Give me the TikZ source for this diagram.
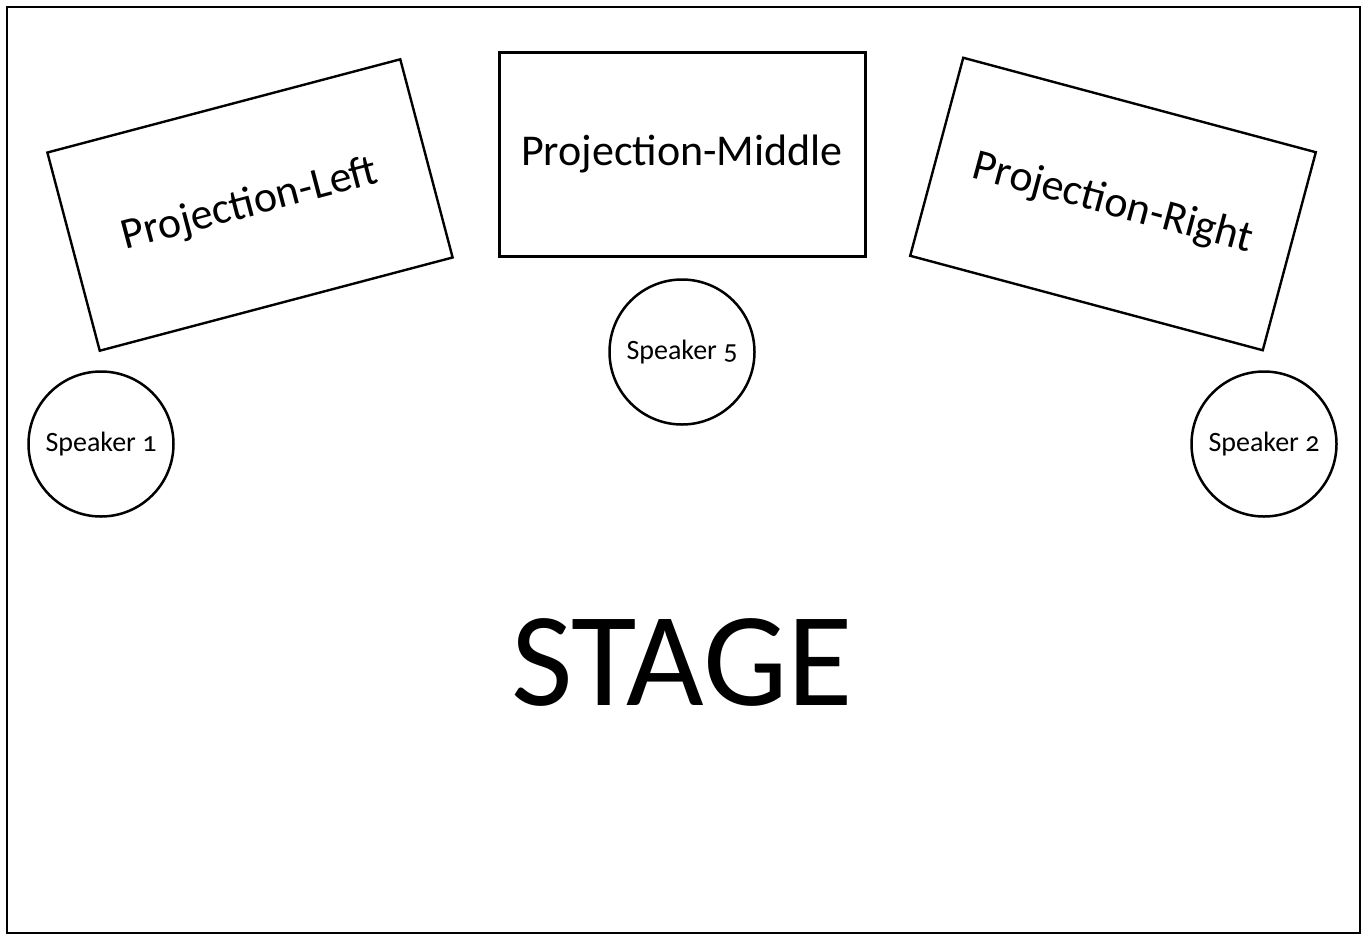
\documentclass[tikz,border=0pt]{standalone}
\usepackage{fontspec}
\setmainfont{Carlito}[Numbers=OldStyle]
\begin{document}
\begin{tikzpicture}[x=1pt,y=-1pt,
  proj/.style={draw=black,line width=2.4pt,rectangle,minimum width=365pt,minimum height=205pt,inner sep=0pt,font=\fontsize{44}{50}\selectfont},
  spk/.style={draw=black,line width=2.5pt,circle,minimum size=145pt,inner sep=0pt,font=\fontsize{28}{32}\selectfont},
  frame/.style={draw=black,line width=2pt}]
\useasboundingbox (0,0) rectangle (1368,935);
\draw[frame] (7,7) rectangle (1360,933);
\node[proj,rotate=14.8] (pl) at (250,205) {\raisebox{-3pt}{Projection-Left}};
\node[proj,line width=3pt,minimum width=366pt,minimum height=204pt] (pm) at (682,154) {Projection-Middle};
\node[proj,rotate=-15] (pr) at (1113,204) {Projection-Right};
\node[spk] (s1) at (101,444) {Speaker 1};
\node[spk] (s5) at (682,352) {Speaker 5};
\node[spk] (s2) at (1264,444) {Speaker 2};
\node[font=\fontsize{134}{146}\selectfont,inner sep=0pt] (stage) at (682,662) {STAGE};
\end{tikzpicture}
\end{document}
